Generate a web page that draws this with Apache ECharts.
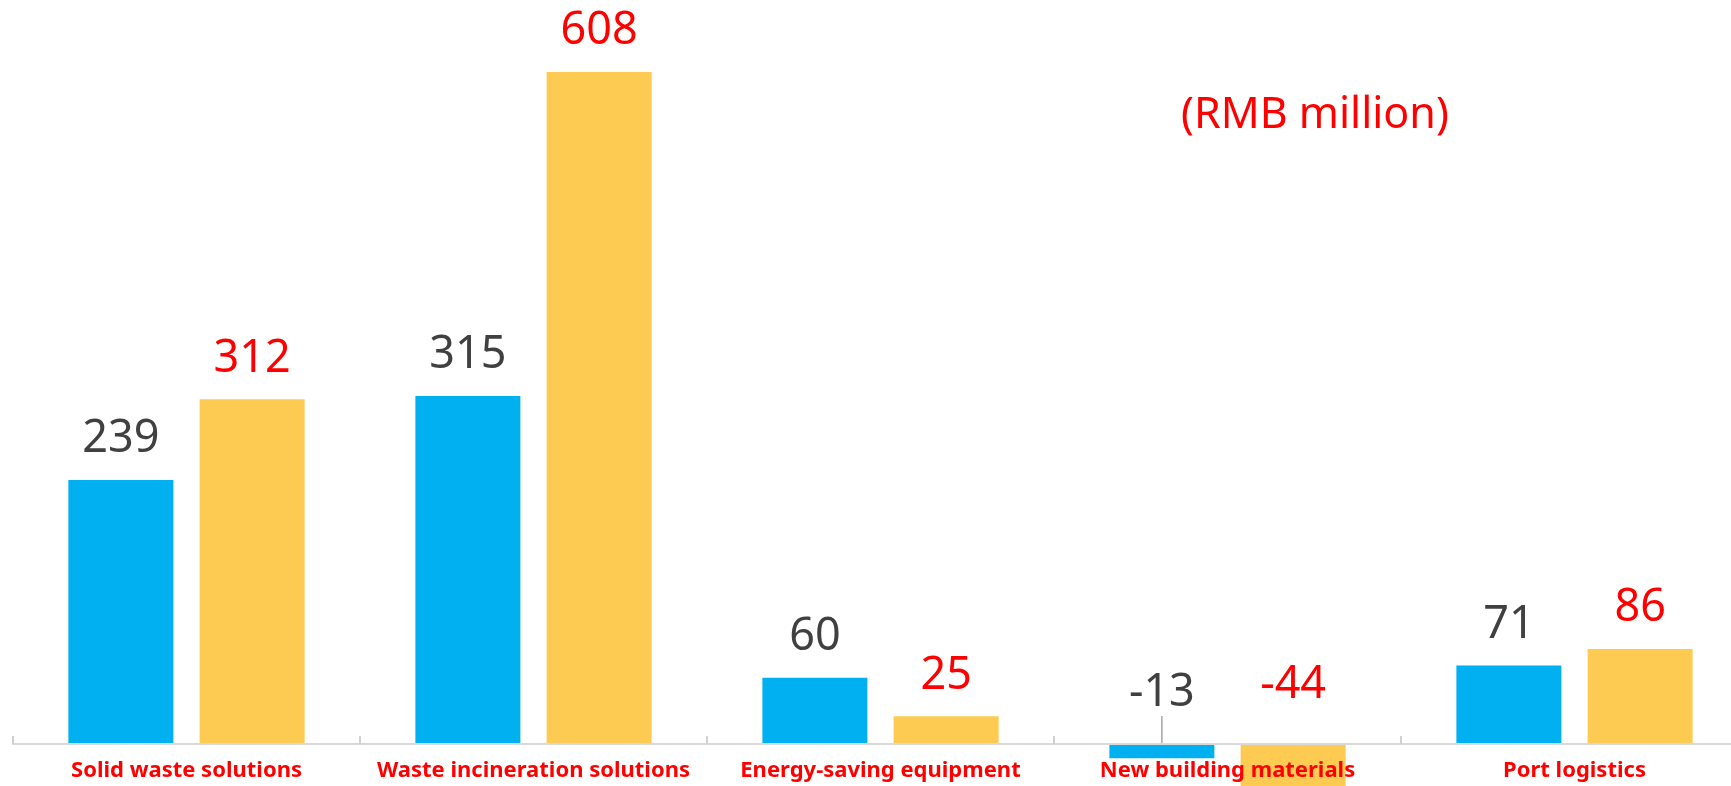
<!DOCTYPE html>
<html>
<head>
<meta charset="utf-8">
<script src="https://cdn.jsdelivr.net/npm/echarts@6/dist/echarts.min.js"></script>
<style>
  html, body { margin: 0; padding: 0; background: #fff; }
  #chart { width: 1731px; height: 786px; }
</style>
</head>
<body>
<div id="chart"></div>
<script>
const categories = ['Solid waste solutions', 'Waste incineration solutions', 'Energy-saving equipment', 'New building materials', 'Port logistics']
const prevValues = [239, 315, 60, -13, 71]
const currValues = [312, 608, 25, -44, 86]
const unitLabel = '(RMB million)'

const chart = echarts.init(document.getElementById('chart'), null, { renderer: 'canvas' })

const labelFont = { fontSize: 45, fontFamily: 'Noto Sans' }

// negative bars: the label sits above the axis, lifted a little
function liftNegative(values, lift) {
  return params => (values[params.dataIndex] < 0 ? { dy: -lift } : {})
}

// leader line only on the small negative bar
function withLeader(values) {
  return values.map(v => (v < 0 ? { value: v, labelLine: { show: true } } : v))
}

chart.setOption({
  animation: false,
  title: {
    text: unitLabel,
    left: 1176,
    top: 89,
    textStyle: { color: '#ff0000', fontSize: 43, fontWeight: 'normal', fontFamily: 'Noto Sans' },
  },
  grid: { left: 13, right: -17, top: 25.7, bottom: 42, containLabel: false, outerBoundsMode: 'none' },
  xAxis: {
    type: 'category',
    data: categories,
    z: 10,
    axisLine: { lineStyle: { color: '#d9d9d9', width: 2 } },
    axisTick: { show: true, interval: 0, inside: true, length: 8, lineStyle: { color: '#d0d0d0', width: 2 } },
    axisLabel: {
      color: '#ff0000',
      fontSize: 22,
      fontWeight: 'bold',
      fontFamily: 'Noto Sans',
      margin: 16,
      interval: 0,
    },
  },
  yAxis: {
    type: 'value',
    min: 0,
    max: 650,
    interval: 50,
    show: false,
    splitLine: { show: false },
  },
  series: [
    {
      name: 'prev',
      type: 'bar',
      data: withLeader(prevValues),
      clip: false,
      barWidth: 105,
      barGap: '25%',
      itemStyle: { color: '#00b0f0' },
      label: { show: true, position: 'top', distance: 18, color: '#404040', ...labelFont },
      labelLayout: liftNegative(prevValues, 10),
      labelLine: { show: false, lineStyle: { color: '#a6a6a6', width: 1.5 } },
    },
    {
      name: 'curr',
      type: 'bar',
      data: currValues,
      clip: false,
      barWidth: 105,
      itemStyle: { color: '#fecb52' },
      label: { show: true, position: 'top', distance: 18, color: '#ff0000', ...labelFont },
      labelLayout: liftNegative(currValues, 18),
    },
  ],
})
</script>
</body>
</html>
